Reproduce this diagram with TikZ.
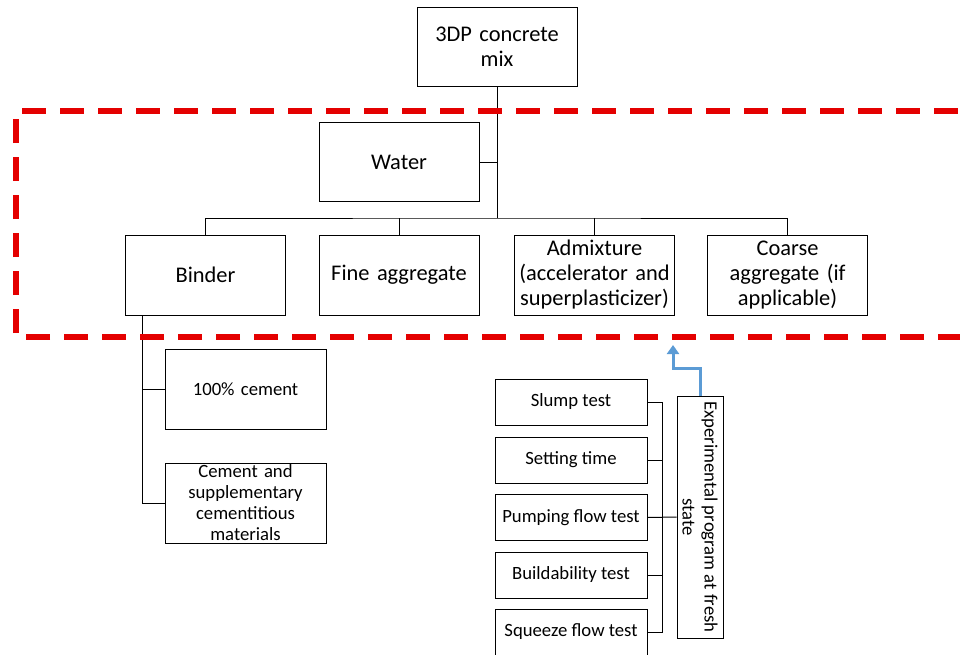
\documentclass[tikz,border=0pt]{standalone}
\usepackage{fontspec}
\setmainfont{Carlito}
\usetikzlibrary{arrows.meta}
\definecolor{zonered}{RGB}{228,0,0}
\definecolor{flowblue}{RGB}{91,155,213}
\tikzset{
  big/.style={draw=black, line width=1pt, minimum width=160pt, minimum height=79pt,
    inner sep=0pt, align=center, text width=156pt,
    font=\fontsize{22.4}{25}\selectfont},
  small/.style={draw=black, line width=1pt, minimum width=161pt, minimum height=80pt,
    inner sep=0pt, align=center, text width=156pt,
    font=\fontsize{18.7}{21}\selectfont},
  testbox/.style={draw=black, line width=1pt, minimum width=152pt, minimum height=46pt,
    inner sep=0pt, align=center, font=\fontsize{18.7}{21}\selectfont},
  link/.style={draw=black, line width=1pt},
  zone/.style={draw=zonered, line width=6pt, dash pattern=on 24pt off 14pt},
  feed/.style={draw=flowblue, line width=3pt, -{Triangle[width=12pt,length=9pt]}}
}
\begin{document}
\begin{tikzpicture}[x=1pt,y=-1pt]
\useasboundingbox (0,0) rectangle (960,654);
\begin{scope}
\clip (0,0) rectangle (960,654);

% mix components
\node[big] (mix) at (497,47) {3DP concrete\\mix};
\node[big] (water) at (399,162) {Water};
\node[big, minimum height=80pt] (binder) at (205.5,275) {Binder};
\node[big, minimum height=80pt] (fine) at (399,275) {Fine aggregate};
\node[big, minimum height=80pt] (admix) at (594.5,275) {Admixture\\(accelerator and\\superplasticizer)};
\node[big, minimum height=80pt] (coarse) at (787.5,275) {Coarse\\aggregate (if\\applicable)};

\coordinate (bus) at (497,218);
\draw[link] (mix.south) -- (bus);
\draw[link] (water.east) -- (mix.south |- water.east);
\draw[link] (binder.north) |- (bus) -| (coarse.north);
\draw[link] (fine.north) -- (fine.north |- bus);
\draw[link] (admix.north) -- (admix.north |- bus);

% binder options
\node[small] (cem) at (245.5,389) {100\% cement};
\node[small] (scm) at (245.5,503) {Cement and\\supplementary\\cementitious\\materials};
\coordinate (stem) at (142,315);
\draw[link] (stem) |- (scm.west);
\draw[link] (stem |- cem.west) -- (cem.west);

% fresh-state tests
\node[testbox] (slump) at (571,402) {Slump test};
\node[testbox] (setting) at (571,460) {Setting time};
\node[testbox] (pump) at (571,517.5) {Pumping flow test};
\node[testbox] (build) at (571,575) {Buildability test};
\node[testbox] (squeeze) at (571,632) {Squeeze flow test};
\node[draw=black, line width=1pt, minimum width=242pt, minimum height=46pt,
      inner sep=0pt, align=center, rotate=-90,
      font=\fontsize{18.7}{22}\selectfont] (exp) at (700,517)
      {Experimental program at fresh\\state};

\coordinate (rail) at (662,402);
\draw[link] (slump.east) -- (rail) |- (squeeze.east);
\draw[link] (setting.east) -- (rail |- setting.east);
\draw[link] (build.east) -- (rail |- build.east);
\draw[link] (pump.east) -- (exp.south);

% link from tests up to the mix zone
\coordinate (tip) at (673,345);
\draw[feed] (exp.west) -- ++(0,-27) -| (tip);

% mix zone outline
\draw[zone] (1000,337) -- (16,337) -- (16,111) -- (1000,111);
\end{scope}
\end{tikzpicture}
\end{document}
